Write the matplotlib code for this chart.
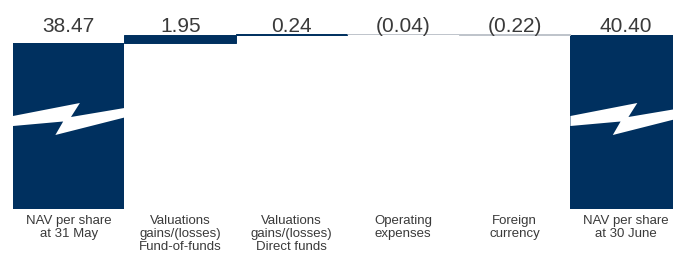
import matplotlib.pyplot as plt
from matplotlib.patches import Polygon
import matplotlib.transforms as mtransforms

# waterfall data
categories = ["NAV per share\nat 31 May",
              "Valuations\ngains/(losses)\nFund-of-funds",
              "Valuations\ngains/(losses)\nDirect funds",
              "Operating\nexpenses",
              "Foreign\ncurrency",
              "NAV per share\nat 30 June"]
start_nav = 38.47
changes = [1.95, 0.24, -0.04, -0.22]
end_nav = 40.40
value_labels = ["38.47", "1.95", "0.24", "(0.04)", "(0.22)", "40.40"]

navy = "#00305f"
grey = "#bfc4cb"
text_col = "#3a3a3a"

YMIN, YMAX = -1.58, 48.84

fig = plt.figure(figsize=(6.73, 2.56), dpi=100)
ax = fig.add_axes([13 / 673, 47 / 256, 660 / 673, 209 / 256])
ax.set_xlim(-0.5, 5.42)
ax.set_ylim(YMIN, YMAX)
for s in ax.spines.values():
    s.set_visible(False)
ax.set_yticks([])

# total bars (axis is broken, so they start at the bottom)
for i, v in [(0, start_nav), (5, end_nav)]:
    ax.bar(i, v - YMIN, bottom=YMIN, width=1.0, color=navy, linewidth=0)

# floating bars
level = start_nav
for k, c in enumerate(changes):
    i = k + 1
    col = navy if c > 0 else grey
    ax.bar(i, c, bottom=level, width=1.0, color=col, edgecolor=col,
           linewidth=0.7)
    level += c

# lightning-bolt break on the total bars (x: fraction of bar, y: px from top)
bolt = [(0.0, 116), (0.60, 103), (0.52, 117), (1.0, 108),
        (1.0, 117.5), (0.38, 135), (0.45, 121.5), (0.0, 126)]
trans = mtransforms.blended_transform_factory(ax.transData, ax.transAxes)
for i in [0, 5]:
    pts = [(i - 0.5 + fx, (209 - py) / 209) for fx, py in bolt]
    ax.add_patch(Polygon(pts, closed=True, facecolor="white",
                         edgecolor="none", transform=trans, zorder=3))

# value labels
for i, lab in enumerate(value_labels):
    ax.text(i, (209 - 32) / 209, lab, transform=trans, ha="center",
            va="baseline", fontsize=15, color=text_col,
            family="Liberation Sans")

ax.set_xticks(range(len(categories)))
ax.set_xticklabels(categories, fontsize=9.5, color=text_col,
                   family="Liberation Sans")
ax.tick_params(axis="x", length=0, pad=4)
for t in ax.get_xticklabels():
    t.set_linespacing(1.15)

fig.savefig("out.png", dpi=100)
